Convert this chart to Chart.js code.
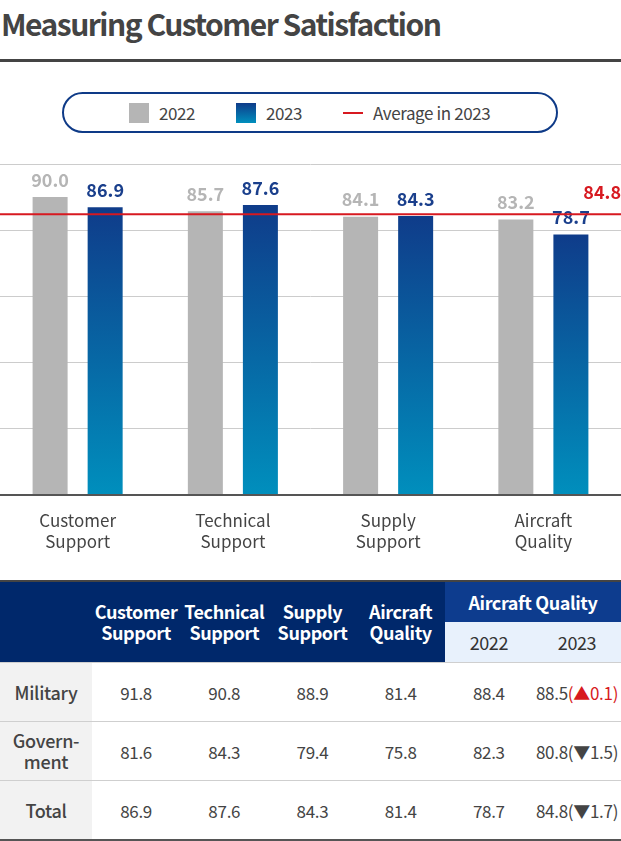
<!DOCTYPE html>
<html>
<head>
<meta charset="utf-8">
<script src="https://cdn.jsdelivr.net/npm/chart.js@4.4.0/dist/chart.umd.min.js"></script>
<style>
  body { margin: 0; width: 621px; height: 841px; position: relative; overflow: hidden; background: #fff;
         font-family: "Noto Sans CJK KR", "Noto Sans", sans-serif; color: #444; }
  #title { position: absolute; left: 1px; top: 0; font-size: 30px; font-weight: 700; line-height: 46px; letter-spacing: -1.5px; color: #444; }
  #rule { position: absolute; left: 0; top: 59px; width: 621px; height: 3px; background: #444; }
  #legend { position: absolute; left: 62px; top: 92px; width: 492px; height: 37px; border: 2px solid #0e3a87; border-radius: 21px; }
  #legend .sw { position: absolute; top: 9px; width: 20px; height: 20px; }
  #legend .ln { position: absolute; top: 18px; width: 20px; height: 2px; background: #d71920; }
  #legend .tx { position: absolute; top: 8px; line-height: 22px; font-size: 17px; color: #444; letter-spacing: -0.4px; }
  #chartBox { position: absolute; left: 0; top: 140px; width: 621px; height: 440px; }
  table { position: absolute; left: 0; top: 580px; width: 621px; border-collapse: collapse; table-layout: fixed;
          border-top: 2px solid #444; border-bottom: 2px solid #555; }
  th { background: #00286b; color: #fff; font-weight: 700; font-size: 18px; line-height: 21px; padding: 0; letter-spacing: -0.4px; }
  th.grp { background: #0d3c8e; height: 40px; }
  th.sub { background: #e8f1fc; color: #333; font-weight: 400; height: 40px; }
  td { text-align: center; font-size: 17px; color: #444; height: 58px; padding: 0; border-top: 1px solid #cfcfcf; letter-spacing: -0.3px; }
  td.rl { background: #f2f2f2; font-weight: 500; font-size: 18px; line-height: 21px; }
  .up { color: #d71920; }
</style>
</head>
<body>
<div id="title">Measuring Customer Satisfaction</div>
<div id="rule"></div>
<div id="legend">
  <div class="sw" style="left:65px;background:#b5b5b5"></div><div class="tx" style="left:95px">2022</div>
  <div class="sw" style="left:172px;background:linear-gradient(#0f3c8a,#008fbd)"></div><div class="tx" style="left:202px">2023</div>
  <div class="ln" style="left:279px"></div><div class="tx" style="left:309px">Average in 2023</div>
</div>
<div id="chartBox"><canvas id="satisfaction"></canvas></div>
<table id="scoreTable"></table>
<script>
const categories = [["Customer", "Support"], ["Technical", "Support"], ["Supply", "Support"], ["Aircraft", "Quality"]];
const values2022 = [90.0, 85.7, 84.1, 83.2];
const values2023 = [86.9, 87.6, 84.3, 78.7];
const average2023 = 84.8;
const yTicks = [0, 20, 40, 60, 80, 100];

// table
const subYears = ["2022", "2023"];
const rowLabels = [["Military"], ["Govern-", "ment"], ["Total"]];
const militaryRow = [91.8, 90.8, 88.9, 81.4, 88.4, 88.5];
const governmentRow = [81.6, 84.3, 79.4, 75.8, 82.3, 80.8];
const totalRow = [86.9, 87.6, 84.3, 81.4, 78.7, 84.8];
const changes = [0.1, -1.5, -1.7];

const fontFamily = '"Noto Sans CJK KR", "Noto Sans", sans-serif';

const overlay = {
  id: "overlay",
  afterDatasetsDraw(chart) {
    const ctx = chart.ctx;
    ctx.save();
    ctx.font = "700 18px " + fontFamily;
    ctx.textAlign = "center";
    ctx.textBaseline = "middle";
    chart.data.datasets.forEach((ds, i) => {
      ctx.fillStyle = ds.labelColor;
      chart.getDatasetMeta(i).data.forEach((bar, j) => {
        ctx.fillText(ds.data[j].toFixed(1), bar.x, bar.y - 17);
      });
    });
    const y = chart.scales.y.getPixelForValue(average2023);
    ctx.strokeStyle = "#d71920";
    ctx.lineWidth = 2;
    ctx.beginPath();
    ctx.moveTo(0, y);
    ctx.lineTo(chart.width, y);
    ctx.stroke();
    ctx.fillStyle = "#d71920";
    ctx.textAlign = "right";
    ctx.fillText(average2023.toFixed(1), chart.width, y - 22);
    ctx.restore();
  },
};

function blueGradient(c) {
  const { ctx, chartArea, scales } = c.chart;
  if (!chartArea || c.type !== "data") return "#0f3c8a";
  const top = scales.y.getPixelForValue(c.raw);
  const bottom = scales.y.getPixelForValue(0);
  const g = ctx.createLinearGradient(0, top, 0, bottom);
  g.addColorStop(0, "#0f3c8a");
  g.addColorStop(1, "#008fbd");
  return g;
}

const ctxSat = document.getElementById("satisfaction").getContext("2d");
const chartSat = new Chart(ctxSat, {
  type: "bar",
  data: {
    labels: categories,
    datasets: [
      {
        label: "2022",
        data: values2022,
        backgroundColor: "#b5b5b5",
        labelColor: "#b5b5b5",
      },
      {
        label: "2023",
        data: values2023,
        backgroundColor: blueGradient,
        labelColor: "#1a3f8c",
      },
    ],
  },
  options: {
    responsive: true,
    maintainAspectRatio: false,
    animation: false,
    categoryPercentage: 0.709,
    barPercentage: 0.636,
    layout: { padding: { top: 24, left: 0, right: 0, bottom: 0 } },
    plugins: {
      legend: { display: false },
      tooltip: { enabled: false },
    },
    scales: {
      x: {
        grid: { display: false },
        border: { display: false },
        ticks: {
          color: "#444",
          padding: 7,
          maxRotation: 0,
          autoSkip: false,
          font: { family: fontFamily, size: 17, lineHeight: 1.25 },
        },
        afterFit: (s) => { s.height = 85; },
      },
      y: {
        min: 0,
        max: 100,
        ticks: { display: false },
        afterBuildTicks: (s) => { s.ticks = yTicks.map((v) => ({ value: v })); },
        grid: {
          drawTicks: false,
          color: (c) => (c.tick.value === 0 ? "#555" : "#cccccc"),
          lineWidth: (c) => (c.tick.value === 0 ? 2 : 1),
        },
        border: { display: false },
        afterFit: (s) => { s.width = 0; },
      },
    },
  },
  plugins: [overlay],
});

// build table
const table = document.getElementById("scoreTable");
let html = '<colgroup><col style="width:92px">' + '<col style="width:88.2px">'.repeat(6) + "</colgroup>";
html += '<tr><th rowspan="2"></th>';
categories.forEach((c) => { html += '<th rowspan="2">' + c.join("<br>") + "</th>"; });
html += '<th class="grp" colspan="2">' + categories[3].join(" ") + "</th></tr><tr>";
subYears.forEach((y) => { html += '<th class="sub">' + y + "</th>"; });
html += "</tr>";
[militaryRow, governmentRow, totalRow].forEach((row, r) => {
  html += '<tr><td class="rl">' + rowLabels[r].join("<br>") + "</td>";
  row.forEach((v, k) => {
    let cell = v.toFixed(1);
    if (k === 5) {
      const ch = changes[r];
      cell += ch >= 0 ? '<span class="up">(▲' + ch.toFixed(1) + ")</span>" : "(▼" + Math.abs(ch).toFixed(1) + ")";
    }
    html += "<td>" + cell + "</td>";
  });
  html += "</tr>";
});
table.innerHTML = html;
</script>
</body>
</html>
